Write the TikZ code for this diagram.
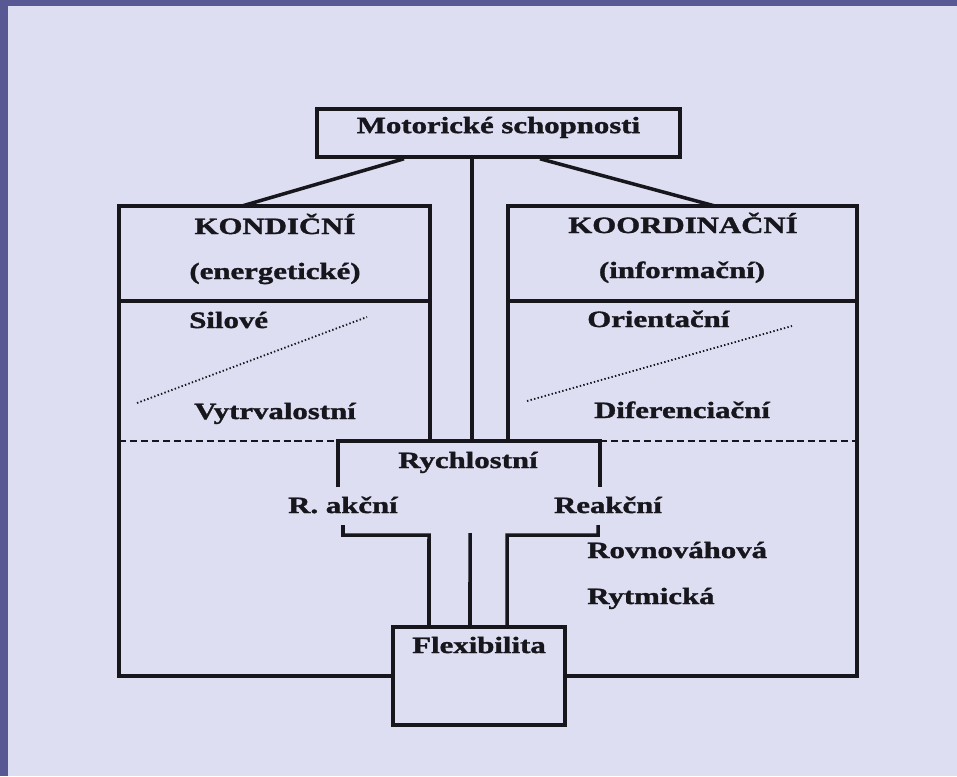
\documentclass[tikz,border=0pt]{standalone}
\usepackage{fontspec}
\setmainfont{Liberation Serif}
\newfontfamily\diagfont[FakeStretch=1.32,FakeBold=1.5]{Liberation Serif}
\usetikzlibrary{calc}
\definecolor{pagebg}{RGB}{222,222,242}
\definecolor{framebg}{RGB}{88,88,148}
\definecolor{ink}{RGB}{22,22,28}
\tikzset{
	txt/.style={font=\diagfont\fontsize{16.6}{20}\selectfont\bfseries,text=ink,inner sep=0pt,anchor=base},
	box/.style={draw=ink,line width=2.5pt,inner sep=0pt},
	wall/.style={draw=ink,line width=2.5pt},
	sep/.style={draw=ink,line width=1.5pt,dash pattern=on 5pt off 2.8pt},
	dots/.style={draw=ink,line width=1.3pt,dash pattern=on 1pt off 1.6pt}
}
\begin{document}
\begin{tikzpicture}[x=0.025cm,y=-0.025cm]
	\useasboundingbox (0,0) rectangle (957,776);
	\fill[color=pagebg] (0,0) rectangle (957,776);
	\fill[color=framebg] (0,0) rectangle (957,6);
	\fill[color=framebg] (0,0) rectangle (8,776);
	\node[box,txt,anchor=center,inner sep=0pt,text depth=0.4cm,minimum width=9.075cm,minimum height=1.2cm] (motor) at (498.5,133) {Motorické schopnosti};
	\node[box,minimum width=4.3cm,minimum height=2.45cm] (flex) at (479,676) {};
	\node[txt] (flexlbl) at (479,653) {Flexibilita};
	\draw[wall] ($(motor.south)+(-94.5,0)$) -- (242,206);
	\draw[wall] ($(motor.south)+(-26.5,0)$) -- (472,441);
	\draw[wall] ($(motor.south)+(41.5,0)$) -- (715,206);
	\draw[wall] (430,441) -- (430,206) -- (119,206) -- (119,676) -- (flex.west);
	\draw[wall] (508,441) -- (508,206) -- (857,206) -- (857,676) -- (flex.east);
	\draw[wall] (119,301) -- (430,301);
	\draw[wall] (508,301) -- (857,301);
	\draw[sep] (119,441) -- (338,441);
	\draw[sep] (600,441) -- (857,441);
	\draw[wall] (338,487) -- (338,441) -- (600,441) -- (600,487);
	\draw[wall] (343,525) -- (343,535) -- (429,535) -- ([xshift=-1.25cm]flex.north);
	\draw[wall] (470,533) -- ([xshift=-0.225cm]flex.north);
	\draw[wall] (598,525) -- (598,535) -- (507,535) -- ([xshift=0.7cm]flex.north);
	\draw[dots] (137,403) -- (367,317);
	\draw[dots] (527,401) -- (792,326);
	\node[txt] (kond) at (275,234) {KONDIČNÍ};
	\node[txt] (energ) at (275,279) {(energetické)};
	\node[txt,anchor=base west] (silove) at (189,328) {Silové};
	\node[txt] (vytrv) at (275,419) {Vytrvalostní};
	\node[txt] (koord) at (683,233) {KOORDINAČNÍ};
	\node[txt] (inform) at (682,278) {(informační)};
	\node[txt,anchor=base west] (orient) at (587,327) {Orientační};
	\node[txt] (difer) at (682,418) {Diferenciační};
	\node[txt] (rychl) at (468,468) {Rychlostní};
	\node[txt] (akcni) at (343,513) {R. akční};
	\node[txt] (reakcni) at (608,513) {Reakční};
	\node[txt,anchor=base west] (rovn) at (587,558) {Rovnováhová};
	\node[txt,anchor=base west] (rytm) at (587,604) {Rytmická};
\end{tikzpicture}
\end{document}
